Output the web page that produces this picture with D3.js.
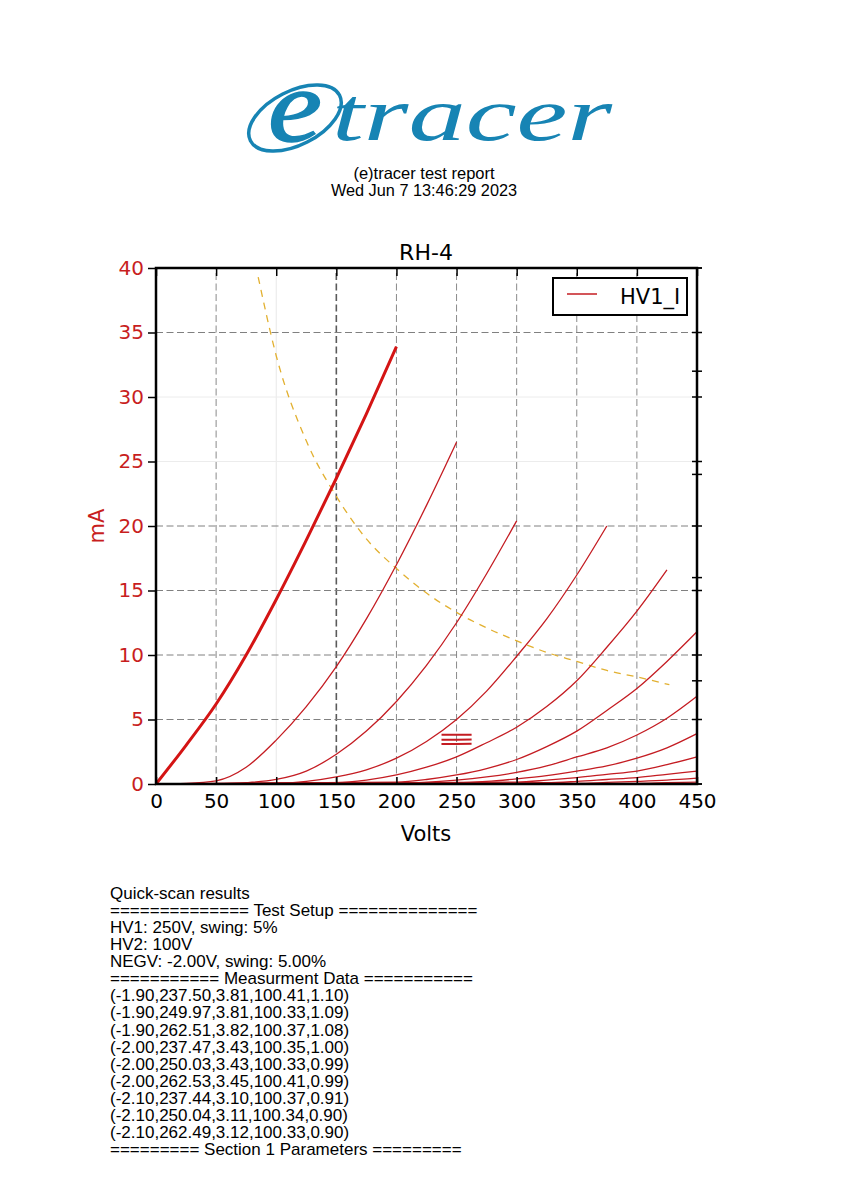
<!DOCTYPE html>
<html>
<head>
<meta charset="utf-8">
<script src="https://cdn.jsdelivr.net/npm/d3@7"></script>
<style>
  html, body { margin: 0; padding: 0; background: #fff; }
  svg { display: block; }
</style>
</head>
<body>
<svg id="page" width="849" height="1200"></svg>
<script>
// ---------------- DATA ----------------
const reportTitle = "(e)tracer test report";
const reportDate = "Wed Jun 7 13:46:29 2023";
const chartTitle = "RH-4";
const xLabel = "Volts";
const yLabel = "mA";
const legendLabel = "HV1_I";

const xTicks = [0, 50, 100, 150, 200, 250, 300, 350, 400, 450];
const yTicks = [0, 5, 10, 15, 20, 25, 30, 35, 40];
const y2Ticks = [0, 1, 2, 3, 4, 5];

// plate curves, [volts, mA]
const trace0 = [[0,0],[25,3.0],[50,6.2],[75,10.0],[100,14.3],[125,18.9],[150,23.7],[175,28.7],[200,33.9]];
const trace1 = [[0,0],[25,0.05],[50,0.25],[75,1.3],[100,3.4],[125,6.0],[150,9.1],[175,12.8],[200,17.0],[225,21.6],[250,26.5]];
const trace2 = [[0,0],[50,0.02],[75,0.1],[100,0.35],[125,1.0],[150,2.3],[175,4.1],[200,6.4],[225,9.2],[250,12.5],[275,16.3],[300,20.4]];
const trace3 = [[0,0],[100,0.05],[125,0.2],[150,0.55],[175,1.1],[200,2.0],[225,3.3],[250,5.0],[275,7.2],[300,9.9],[325,12.8],[350,16.2],[375,20.0]];
const trace4 = [[0,0],[150,0.1],[175,0.3],[200,0.7],[225,1.3],[250,2.1],[275,3.2],[300,4.4],[325,6.0],[350,8.0],[375,10.6],[400,13.4],[425,16.6]];
const trace5 = [[0,0],[200,0.15],[225,0.35],[250,0.7],[275,1.2],[300,1.9],[325,2.9],[350,4.1],[375,5.7],[400,7.4],[425,9.5],[450,11.8]];
const trace6 = [[0,0],[200,0.05],[250,0.3],[275,0.55],[300,0.9],[325,1.4],[350,2.1],[375,2.8],[400,3.8],[425,5.1],[450,6.8]];
const trace7 = [[0,0],[250,0.1],[275,0.2],[300,0.4],[325,0.65],[350,1.0],[375,1.4],[400,2.0],[425,2.8],[450,3.9]];
const trace8 = [[0,0],[300,0.15],[325,0.3],[350,0.5],[375,0.75],[400,1.0],[425,1.5],[450,2.1]];
const trace9 = [[0,0],[325,0.1],[350,0.2],[375,0.35],[400,0.5],[425,0.75],[450,1.0]];
const trace10 = [[0,0],[350,0.05],[375,0.12],[400,0.2],[425,0.3],[450,0.45]];
const trace11 = [[0,0],[400,0.05],[425,0.1],[450,0.15]];
const traces = [trace0, trace1, trace2, trace3, trace4, trace5, trace6, trace7, trace8, trace9, trace10, trace11];

// max dissipation curve, [volts, mA]
const powerLimit = [[85,39.3],[100,33.2],[125,26.6],[150,22.3],[175,19.0],[200,16.7],[225,14.8],[250,13.3],[275,12.1],[300,11.1],[325,10.2],[350,9.5],[375,8.8],[400,8.3],[427,7.7]];

// quick-scan measurements: (grid V, plate V, plate mA, screen V, screen mA)
const quickScan = [
  [-1.90,237.50,3.81,100.41,1.10],
  [-1.90,249.97,3.81,100.33,1.09],
  [-1.90,262.51,3.82,100.37,1.08],
  [-2.00,237.47,3.43,100.35,1.00],
  [-2.00,250.03,3.43,100.33,0.99],
  [-2.00,262.53,3.45,100.41,0.99],
  [-2.10,237.44,3.10,100.37,0.91],
  [-2.10,250.04,3.11,100.34,0.90],
  [-2.10,262.49,3.12,100.33,0.90]
];
const setupLines = [
  "Quick-scan results",
  "============== Test Setup ==============",
  "HV1: 250V, swing: 5%",
  "HV2: 100V",
  "NEGV: -2.00V, swing: 5.00%",
  "=========== Measurment Data ==========="
];
const footerLine = "========= Section 1 Parameters =========";

// ---------------- DRAW ----------------
const svg = d3.select("#page");
svg.append("rect").attr("width", 849).attr("height", 1200).attr("fill", "#fff");

// Logo
const blue = "#1784b4";
const logo = svg.append("g");
logo.append("ellipse")
  .attr("cx", 295).attr("cy", 118).attr("rx", 50).attr("ry", 27)
  .attr("transform", "rotate(-27 295 118)")
  .attr("fill", "none").attr("stroke", blue).attr("stroke-width", 3.5);
logo.append("text")
  .attr("x", 268).attr("y", 141)
  .attr("font-family", "'Liberation Serif', 'DejaVu Serif', serif")
  .attr("font-style", "italic")
  .attr("font-size", 104).attr("fill", blue)
  .attr("stroke", blue).attr("stroke-width", 1.5)
  .attr("textLength", 54).attr("lengthAdjust", "spacingAndGlyphs")
  .text("e");
logo.append("text")
  .attr("x", 332).attr("y", 140)
  .attr("font-family", "'Liberation Serif', 'DejaVu Serif', serif")
  .attr("font-style", "italic")
  .attr("font-size", 76).attr("fill", blue)
  .attr("textLength", 280).attr("lengthAdjust", "spacingAndGlyphs")
  .text("tracer");

// Header text
const hdr = svg.append("g")
  .attr("font-family", "'Liberation Sans', Arial, sans-serif")
  .attr("fill", "#000").attr("text-anchor", "middle");
hdr.append("text").attr("x", 424).attr("y", 179).attr("font-size", 16.5).text(reportTitle);
hdr.append("text").attr("x", 424).attr("y", 196).attr("font-size", 16.3).text(reportDate);

// Chart
const x = d3.scaleLinear().domain([0, 450]).range([156, 697]);
const y = d3.scaleLinear().domain([0, 40]).range([784, 268]);
const y2 = d3.scaleLinear().domain([0, 5]).range([784, 268]);

const chart = svg.append("g").attr("font-family", "'DejaVu Sans', sans-serif");

// grid
const faintX = new Set([100]), darkX = new Set([150]);
const faintY = new Set([25, 30]);
chart.append("g").selectAll("line")
  .data(xTicks.filter(d => d > 0 && d < 450))
  .join("line")
  .attr("x1", d => x(d)).attr("x2", d => x(d))
  .attr("y1", y(0)).attr("y2", y(40))
  .attr("stroke", d => faintX.has(d) ? "#e8e8e8" : darkX.has(d) ? "#5a5a5a" : "#8a8a8a")
  .attr("stroke-width", d => darkX.has(d) ? 1.6 : 1)
  .attr("stroke-dasharray", d => faintX.has(d) ? null : "7,3.5");
chart.append("g").selectAll("line")
  .data(yTicks.filter(d => d > 0 && d < 40))
  .join("line")
  .attr("x1", x(0)).attr("x2", x(450))
  .attr("y1", d => y(d)).attr("y2", d => y(d))
  .attr("stroke", d => faintY.has(d) ? "#ececec" : "#808080")
  .attr("stroke-width", 1)
  .attr("stroke-dasharray", d => faintY.has(d) ? null : "7,3.5");

// power limit curve
const lineGen = d3.line().x(d => x(d[0])).y(d => y(d[1])).curve(d3.curveMonotoneX);
chart.append("path")
  .datum(powerLimit)
  .attr("d", lineGen)
  .attr("fill", "none").attr("stroke", "#e2b030").attr("stroke-width", 1.3)
  .attr("stroke-dasharray", "7,6");

// traces
chart.append("g").selectAll("path")
  .data(traces)
  .join("path")
  .attr("d", lineGen)
  .attr("fill", "none")
  .attr("stroke", (d, i) => i === 0 ? "#d41414" : "#c41c22")
  .attr("stroke-width", (d, i) => i === 0 ? 3 : 1.3)
  .attr("stroke-linejoin", "round");

// quick-scan measurement lines
const scanLine = d3.line().x(d => x(d[1])).y(d => y(d[2]));
const scanGroups = d3.groups(quickScan, d => d[0]);
chart.append("g").selectAll("path")
  .data(scanGroups)
  .join("path")
  .attr("d", g => scanLine(g[1]))
  .attr("fill", "none").attr("stroke", "#c41c22").attr("stroke-width", 2);

// frame
chart.append("rect")
  .attr("x", x(0)).attr("y", y(40))
  .attr("width", x(450) - x(0)).attr("height", y(0) - y(40))
  .attr("fill", "none").attr("stroke", "#000").attr("stroke-width", 2.5);

// left axis
const leftAx = chart.append("g").attr("transform", `translate(${x(0)},0)`)
  .call(d3.axisLeft(y).tickValues(yTicks).tickSize(8).tickPadding(4));
leftAx.select(".domain").remove();
leftAx.selectAll(".tick line").attr("stroke", "#000").attr("stroke-width", 1.5);
leftAx.selectAll(".tick text").attr("fill", "#c81e1e").attr("font-size", 20)
  .attr("font-family", "'DejaVu Sans', sans-serif");

// bottom axis
const bottomAx = chart.append("g").attr("transform", `translate(0,${y(0)})`)
  .call(d3.axisBottom(x).tickValues(xTicks).tickSizeInner(-7).tickSizeOuter(0).tickPadding(10));
bottomAx.select(".domain").remove();
bottomAx.selectAll(".tick line").attr("stroke", "#000").attr("stroke-width", 1.5);
bottomAx.selectAll(".tick text").attr("fill", "#000").attr("font-size", 20)
  .attr("font-family", "'DejaVu Sans', sans-serif");

// top axis ticks
const topAx = chart.append("g").attr("transform", `translate(0,${y(40)})`)
  .call(d3.axisTop(x).tickValues(xTicks).tickSizeInner(-8).tickSizeOuter(0).tickFormat(""));
topAx.select(".domain").remove();
topAx.selectAll(".tick line").attr("stroke", "#000").attr("stroke-width", 1.5);

// right axis ticks (main + secondary)
chart.append("g").selectAll("line")
  .data(yTicks)
  .join("line")
  .attr("x1", x(450) - 5).attr("x2", x(450) + 5)
  .attr("y1", d => y(d)).attr("y2", d => y(d))
  .attr("stroke", "#000").attr("stroke-width", 1.5);
chart.append("g").selectAll("line")
  .data(y2Ticks)
  .join("line")
  .attr("x1", x(450) - 5).attr("x2", x(450) + 5)
  .attr("y1", d => y2(d)).attr("y2", d => y2(d))
  .attr("stroke", "#000").attr("stroke-width", 1.5);

// titles
chart.append("text").attr("x", 426).attr("y", 260)
  .attr("text-anchor", "middle").attr("font-size", 22).attr("fill", "#000")
  .text(chartTitle);
chart.append("text").attr("x", 426).attr("y", 841)
  .attr("text-anchor", "middle").attr("font-size", 21).attr("fill", "#000")
  .text(xLabel);
chart.append("text")
  .attr("transform", `translate(104,${y(20)}) rotate(-90)`)
  .attr("text-anchor", "middle").attr("font-size", 21).attr("fill", "#c81e1e")
  .text(yLabel);

// legend
const lg = chart.append("g");
lg.append("rect").attr("x", 553).attr("y", 278).attr("width", 134).attr("height", 37)
  .attr("fill", "#fff").attr("stroke", "#000").attr("stroke-width", 2);
lg.append("line").attr("x1", 567).attr("x2", 597).attr("y1", 294).attr("y2", 294)
  .attr("stroke", "#c41c22").attr("stroke-width", 1.5);
lg.append("text").attr("x", 620).attr("y", 304).attr("font-size", 21).attr("fill", "#000")
  .text(legendLabel);

// Report text block
const dataLines = quickScan.map(r => "(" + r.map(v => v.toFixed(2)).join(",") + ")");
const allLines = setupLines.concat(dataLines, [footerLine]);
svg.append("g")
  .attr("font-family", "'Liberation Sans', Arial, sans-serif")
  .attr("font-size", 17).attr("fill", "#000")
  .selectAll("text")
  .data(allLines)
  .join("text")
  .attr("x", 110)
  .attr("y", (d, i) => 899 + i * 17.07)
  .text(d => d);
</script>
</body>
</html>
